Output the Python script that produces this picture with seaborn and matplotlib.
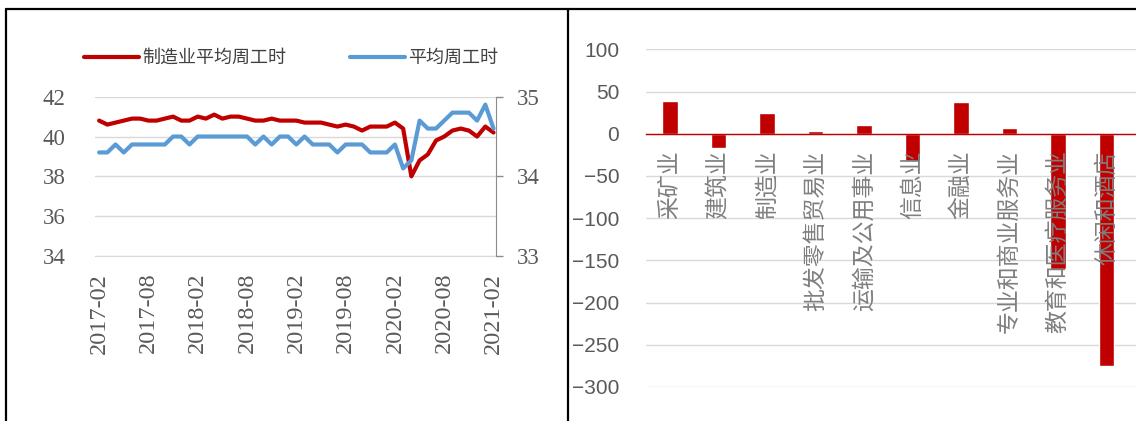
import numpy as np
import pandas as pd
import matplotlib
matplotlib.use("Agg")
import matplotlib.pyplot as plt
import seaborn as sns
from matplotlib.lines import Line2D

# 左图：平均周工时（月度）
months = pd.period_range("2017-02", "2021-02", freq="M").strftime("%Y-%m")
manuf_hours = [40.8, 40.6, 40.7, 40.8, 40.9, 40.9, 40.8, 40.8, 40.9, 41.0,
               40.8, 40.8, 41.0, 40.9, 41.1, 40.9, 41.0, 41.0, 40.9, 40.8,
               40.8, 40.9, 40.8, 40.8, 40.8, 40.7, 40.7, 40.7, 40.6, 40.5,
               40.6, 40.5, 40.3, 40.5, 40.5, 40.5, 40.7, 40.4, 38.0, 38.8,
               39.1, 39.8, 40.0, 40.3, 40.4, 40.3, 40.0, 40.5, 40.2]
total_hours = [34.3, 34.3, 34.4, 34.3, 34.4, 34.4, 34.4, 34.4, 34.4, 34.5,
               34.5, 34.4, 34.5, 34.5, 34.5, 34.5, 34.5, 34.5, 34.5, 34.4,
               34.5, 34.4, 34.5, 34.5, 34.4, 34.5, 34.4, 34.4, 34.4, 34.3,
               34.4, 34.4, 34.4, 34.3, 34.3, 34.3, 34.4, 34.1, 34.2, 34.7,
               34.6, 34.6, 34.7, 34.8, 34.8, 34.8, 34.7, 34.9, 34.6]
left_ticks = [34, 36, 38, 40, 42]
right_ticks = [33, 34, 35]

# 右图：各行业就业变化
sectors = ["采矿业", "建筑业", "制造业", "批发零售贸易业", "运输及公用事业", "信息业",
           "金融业", "专业和商业服务业", "教育和医疗服务业", "休闲和酒店"]
changes = [39, -17, 25, 3, 10, -32, 37, 7, -160, -275]
bar_ticks = [-300, -250, -200, -150, -100, -50, 0, 50, 100]

red = "#c00000"
blue = "#5b9bd5"
txt = "#595959"
grid_c = "#d9d9d9"
W, H = 1136, 421

sns.set_style("white")
plt.rcParams["font.family"] = ["Noto Sans CJK SC", "DejaVu Sans"]

fig = plt.figure(figsize=(W / 100, H / 100), dpi=100)

#%% 左图
ax = fig.add_axes([95 / W, 165 / H, 401 / W, 159.3 / H])
x = np.arange(len(months))
sns.lineplot(x=x, y=manuf_hours, ax=ax, color=red, linewidth=3)
ax2 = ax.twinx()
sns.lineplot(x=x, y=total_hours, ax=ax2, color=blue, linewidth=3)

ax.set_ylim(34, 42)
ax.set_yticks(left_ticks)
ax2.set_ylim(33, 35)
ax2.set_yticks(right_ticks)
ax.set_xlim(-0.5, 48.3)
ax.set_xticks(x[::6])
ax.set_xticklabels(months[::6], rotation=90)

ax.grid(axis="y", color=grid_c, lw=1)
ax.set_axisbelow(True)
for s in ["left", "top", "right"]:
    ax.spines[s].set_visible(False)
ax.spines["bottom"].set_color(grid_c)
for s in ["left", "top", "bottom"]:
    ax2.spines[s].set_visible(False)
ax2.spines["right"].set_color("#8c8c8c")

ax.tick_params(axis="y", length=0, pad=21, labelsize=16.5, labelcolor=txt)
ax.tick_params(axis="x", length=6, width=1, color=grid_c, pad=6, labelsize=17.5, labelcolor=txt)
ax2.tick_params(axis="y", length=5, width=1, color="#8c8c8c", pad=10, labelsize=16.5, labelcolor=txt)
for lab in ax.get_xticklabels() + ax.get_yticklabels() + ax2.get_yticklabels():
    lab.set_fontfamily(["Liberation Serif"])
ax.set_xlabel("")
ax.set_ylabel("")
ax2.set_ylabel("")

l1 = ax.get_lines()[0]
l2 = ax2.get_lines()[0]
fig.legend([l1, l2], ["制造业平均周工时", "平均周工时"], loc="center left",
           bbox_to_anchor=(84 / W, 1 - 58 / H), ncol=2, frameon=False,
           handlelength=3.05, handletextpad=0.2, columnspacing=3.5, fontsize=13,
           borderpad=0, borderaxespad=0, labelcolor="#404040")

#%% 右图
axr = fig.add_axes([645.7 / W, 34 / H, 533.5 / W, 337.7 / H])
sns.barplot(x=sectors, y=changes, ax=axr, color=red, saturation=1, width=0.32)
axr.set_xlim(-0.5, 10.5)
axr.set_ylim(-300, 100)
axr.set_yticks(bar_ticks)
axr.grid(axis="y", color=grid_c, lw=1)
axr.set_axisbelow(True)
axr.xaxis.set_zorder(2.5)
for s in ["left", "top", "right"]:
    axr.spines[s].set_visible(False)
axr.spines["bottom"].set_position(("data", 0))
axr.spines["bottom"].set_color(red)
axr.spines["bottom"].set_linewidth(1)
axr.tick_params(axis="x", length=0, pad=12, labelsize=16.5, labelcolor="#7f7f7f", rotation=90)
axr.tick_params(axis="y", length=0, pad=19, labelsize=15, labelcolor=txt)
for lab in axr.get_yticklabels():
    lab.set_fontfamily(["Liberation Sans"])
axr.set_xlabel("")
axr.set_ylabel("")

# 边框
fig.add_artist(Line2D([6 / W, 6 / W], [0, 1 - 9 / H], color="black", lw=1.6, transform=fig.transFigure))
fig.add_artist(Line2D([568 / W, 568 / W], [0, 1 - 9 / H], color="black", lw=1.6, transform=fig.transFigure))
fig.add_artist(Line2D([6 / W, 1], [1 - 9 / H, 1 - 9 / H], color="black", lw=1.6, transform=fig.transFigure))

fig.savefig("out.png", dpi=100, facecolor="white")
